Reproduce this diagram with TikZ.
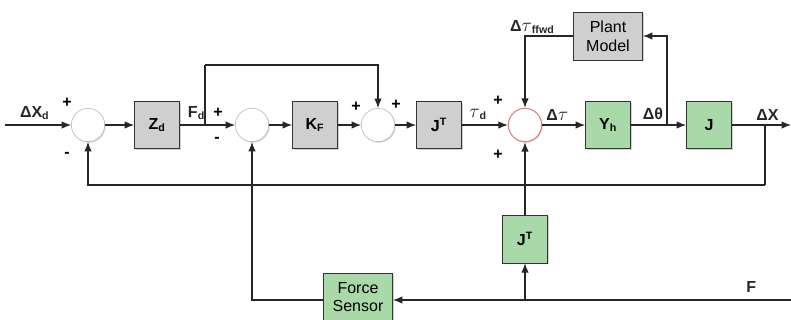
\documentclass[tikz,border=0pt]{standalone}
\usepackage{fontspec}
\setmainfont{Liberation Sans}
\usepackage{tikz}
\usetikzlibrary{arrows.meta, positioning, calc, shadows}
\definecolor{blockgray}{HTML}{CFCFCF}
\definecolor{blockgreen}{HTML}{A9D8A9}
\definecolor{sumred}{HTML}{D98080}

\begin{document}
\begin{tikzpicture}[
  x=0.75pt, y=-0.75pt,
  block/.style={draw=black!80, fill=blockgray, minimum width=34pt, minimum height=35pt,
                font=\large\bfseries, align=center, inner sep=1pt,
                drop shadow={opacity=0.35, shadow xshift=1pt, shadow yshift=-1pt}},
  gblock/.style={block, fill=blockgreen},
  sum/.style={circle, draw=gray!60, fill=white, minimum size=25pt, inner sep=0pt,
              drop shadow={opacity=0.3, shadow xshift=0.8pt, shadow yshift=-0.8pt}},
  arrow/.style={-{Latex[length=7pt, width=5.5pt]}, thick, black!85},
  sig/.style={font=\large\bfseries},
  sgn/.style={font=\large\bfseries}
]
  \useasboundingbox (0,0) rectangle (791,320);

  \node[sum] (s1) at (88,125) {};
  \node[block] (zd) at (157,125) {Z\textsubscript{d}};
  \node[sum] (s2) at (252,125) {};
  \node[block] (kf) at (315,125) {K\textsubscript{F}};
  \node[sum] (s3) at (378,125) {};
  \node[block] (jt) at (439,125) {J\textsuperscript{T}};
  \node[sum, draw=sumred, thick] (s4) at (525,125) {};
  \node[gblock] (yh) at (608,125) {Y\textsubscript{h}};
  \node[gblock] (jj) at (709,125) {J};
  \node[block, minimum width=52pt, minimum height=36pt, font=\large] (pm) at (608,36) {Plant\\Model};
  \node[gblock, minimum height=36pt] (jt2) at (525,239) {J\textsuperscript{T}};
  \node[gblock, minimum width=52pt, minimum height=35pt, font=\large] (fs) at (358,297) {Force\\Sensor};

  \coordinate (in) at (5,125);
  \coordinate (fd) at (205,125);
  \coordinate (ftop) at (205,65);
  \coordinate (th) at (667,125);
  \coordinate (xo) at (765,125);
  \coordinate (out) at (791,125);
  \coordinate (fb) at (765,185);
  \coordinate (fin) at (791,300);
  \coordinate (fj) at (525,300);

  \draw[arrow] (in) -- (s1) node[pos=0.45, above, sig] {ΔX\textsubscript{d}};
  \draw[arrow] (s1) -- (zd);
  \draw[arrow] (zd) -- (s2) node[pos=0.3, above, sig] {F\textsubscript{d}};
  \draw[thick, black!85] (fd) -- (ftop);
  \draw[arrow] (ftop) -| (s3.north);
  \draw[arrow] (s2) -- (kf);
  \draw[arrow] (kf) -- (s3);
  \draw[arrow] (s3) -- (jt);
  \draw[arrow] (jt) -- (s4) node[pos=0.35, above, sig] {\Large$\tau$\large\textsubscript{d}};
  \draw[arrow] (s4) -- (yh) node[pos=0.35, above, sig] {Δ\Large$\tau$};
  \draw[arrow] (yh) -- (jj) node[pos=0.4, above, sig] {Δθ};
  \draw[arrow] (th) |- (pm.east);
  \draw[arrow] (pm.west) -| (s4.north) node[pos=0.1, above left=-2pt and 3pt, sig] {Δ\Large$\tau$\large\textsubscript{ffwd}};
  \draw[arrow] (jj) -- (out) node[pos=0.6, above, sig] {ΔX};
  \draw[thick, black!85] (xo) -- (fb);
  \draw[arrow] (fb) -| (s1.south);
  \draw[arrow] (fin) -- (fin -| fs.east) node[pos=0.1, above=2pt, sig] {F};
  \draw[arrow] (fj) -- (jt2);
  \draw[arrow] (jt2) -- (s4);
  \draw[arrow] (fin -| fs.west) -| (s2.south);

  \node[sgn] (p1) at (67,103) {+};
  \node[sgn] (m1) at (67,155) {-};
  \node[sgn] (p2) at (218,113) {+};
  \node[sgn] (m2) at (217,140) {-};
  \node[sgn] (p3) at (356,107) {+};
  \node[sgn] (p4) at (396,105) {+};
  \node[sgn] (p5) at (498,101) {+};
  \node[sgn] (p6) at (498,155) {+};
\end{tikzpicture}
\end{document}
